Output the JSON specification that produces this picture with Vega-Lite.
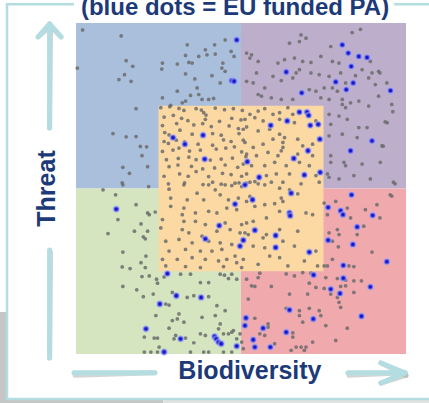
{
"$schema": "https://vega.github.io/schema/vega-lite/v6.json",
"width": 330, "height": 331,
"autosize": {"type": "none"},
"padding": {"left": 76, "top": 23, "right": 23, "bottom": 49},
"background": "white",
"config": {"view": {"stroke": null}},
"encoding": {
  "x": {"field": "x", "type": "quantitative", "scale": {"domain": [0, 100], "nice": false, "zero": false}, "axis": null},
  "y": {"field": "y", "type": "quantitative", "scale": {"domain": [0, 100], "nice": false, "zero": false}, "axis": null}
},
"layer": [
  {"data": {"values": [{"x": -23.1, "x2": 26.4, "y": -13.6, "y2": -15.0}, {"x": -23.1, "x2": -20.9, "y": 12.7, "y2": -15.0}]},
   "mark": {"type": "rect", "fill": "#c6c6c6"},
   "encoding": {"x2": {"field": "x2"}, "y2": {"field": "y2"}}},
  {"data": {"values": [{"x": 26.4, "x2": 110, "y": -13.6, "y2": -15.0}]},
   "mark": {"type": "rect", "fill": "#e2e2e2"},
   "encoding": {"x2": {"field": "x2"}, "y2": {"field": "y2"}}},
  {"data": {"values": [{"x": -20.9, "x2": 110, "y": -13.6, "y2": 105.7}]},
   "mark": {"type": "rect", "fill": "white", "stroke": "#b4dde2", "strokeWidth": 2.5},
   "encoding": {"x2": {"field": "x2"}, "y2": {"field": "y2"}}},
  {"data": {"values": [{"x": -0.6, "x2": 96.4, "y": 101.6, "y2": 108}]},
   "mark": {"type": "rect", "fill": "white"},
   "encoding": {"x2": {"field": "x2"}, "y2": {"field": "y2"}}},
  {"data": {"values": [
    {"zone": "high threat, low biodiversity", "x": 0, "x2": 50, "y": 50, "y2": 100},
    {"zone": "high threat, high biodiversity", "x": 50, "x2": 100, "y": 50, "y2": 100},
    {"zone": "low threat, low biodiversity", "x": 0, "x2": 50, "y": 0, "y2": 50},
    {"zone": "low threat, high biodiversity", "x": 50, "x2": 100, "y": 0, "y2": 50},
    {"zone": "medium", "x": 25, "x2": 75, "y": 25, "y2": 75}]},
   "mark": {"type": "rect"},
   "encoding": {"x2": {"field": "x2"}, "y2": {"field": "y2"},
     "color": {"field": "zone", "type": "nominal", "legend": null,
       "scale": {"domain": ["high threat, low biodiversity", "high threat, high biodiversity", "low threat, low biodiversity", "low threat, high biodiversity", "medium"],
                 "range": ["#a9bfdc", "#bdafcb", "#d4e5bf", "#f0a9ad", "#fcd9a2"]}}}},
  {"data": {"values": [
    {"x": -8.0, "y": 99.7, "x2": -8.0, "y2": 68.3},
    {"x": -8.0, "y": 31.4, "x2": -8.0, "y2": -1.2},
    {"x": -8.0, "y": 99.7, "x2": -11.5, "y2": 95.8},
    {"x": -8.0, "y": 99.7, "x2": -4.5, "y2": 95.8},
    {"x": -0.6, "y": -5.7, "x2": 23.9, "y2": -5.7},
    {"x": 82.4, "y": -5.7, "x2": 99.7, "y2": -5.7},
    {"x": 99.7, "y": -5.7, "x2": 92.4, "y2": -2.7},
    {"x": 99.7, "y": -5.7, "x2": 92.4, "y2": -8.8}]},
   "layer": [
     {"mark": {"type": "rule", "color": "#a0a0a0", "opacity": 0.45, "strokeWidth": 5, "strokeCap": "round", "xOffset": 1, "yOffset": 2.5}},
     {"mark": {"type": "rule", "color": "#b4dde2", "strokeWidth": 5, "strokeCap": "round"}}
   ],
   "encoding": {"x2": {"field": "x2"}, "y2": {"field": "y2"}}},
  {"data": {"values": [{"x": 48.2, "y": 102.4, "t": "(blue dots = EU funded PA)"}]},
   "mark": {"type": "text", "font": "Liberation Sans", "fontWeight": "bold", "fontSize": 24, "color": "#1d3a78", "align": "center", "baseline": "alphabetic"},
   "encoding": {"text": {"field": "t"}}},
  {"data": {"values": [{"x": 52.7, "y": -7.55, "t": "Biodiversity"}]},
   "mark": {"type": "text", "font": "Liberation Sans", "fontWeight": "bold", "fontSize": 25, "color": "#1d3a78", "align": "center", "baseline": "alphabetic"},
   "encoding": {"text": {"field": "t"}}},
  {"data": {"values": [{"x": -6.4, "y": 50.0, "t": "Threat"}]},
   "mark": {"type": "text", "font": "Liberation Sans", "fontWeight": "bold", "fontSize": 25, "color": "#1d3a78", "align": "center", "baseline": "alphabetic", "angle": 270},
   "encoding": {"text": {"field": "t"}}},
  {"data": {"values": [
{"x":2.0,"y":97.9},{"x":13.7,"y":96.1},{"x":0.4,"y":86.4},{"x":33.7,"y":93.4},{"x":39.2,"y":91.9},{"x":42.0,"y":93.4},{"x":45.2,"y":94.9},{"x":39.7,"y":90.4},{"x":42.2,"y":90.6},{"x":47.0,"y":91.4},{"x":47.9,"y":89.9},{"x":37.2,"y":89.9},{"x":33.2,"y":90.2},{"x":26.2,"y":87.9},{"x":30.7,"y":87.6},{"x":34.2,"y":88.1},{"x":35.2,"y":87.9},{"x":44.5,"y":87.9},{"x":15.2,"y":88.6},{"x":17.2,"y":86.9},{"x":14.7,"y":84.4},{"x":13.0,"y":82.9},{"x":16.7,"y":82.4},{"x":26.0,"y":86.1},{"x":33.2,"y":84.6},{"x":36.0,"y":83.1},{"x":41.2,"y":84.1},{"x":44.2,"y":86.4},{"x":45.2,"y":85.4},{"x":43.7,"y":81.9},{"x":30.7,"y":79.4},{"x":36.7,"y":80.4},{"x":37.2,"y":78.4},{"x":34.7,"y":78.1},{"x":38.2,"y":76.9},{"x":40.2,"y":76.9},{"x":41.7,"y":77.2},{"x":33.2,"y":76.4},{"x":32.2,"y":75.9},{"x":28.7,"y":75.1},{"x":26.2,"y":77.4},{"x":18.2,"y":74.1},{"x":11.2,"y":66.6},{"x":15.2,"y":65.6},{"x":18.2,"y":65.7},{"x":19.5,"y":62.7},{"x":21.4,"y":62.6},{"x":20.0,"y":59.9},{"x":14.2,"y":56.4},{"x":21.7,"y":56.6},{"x":16.2,"y":54.6},{"x":14.0,"y":51.7},{"x":22.0,"y":50.6},
{"x":25.7,"y":74.4},{"x":28.4,"y":74.7},{"x":31.2,"y":74.2},{"x":32.7,"y":73.6},{"x":36.4,"y":74.1},{"x":38.0,"y":73.7},{"x":38.7,"y":72.9},{"x":39.4,"y":72.2},{"x":42.2,"y":74.3},{"x":45.0,"y":73.8},{"x":47.7,"y":74.1},{"x":50.4,"y":73.6},{"x":26.7,"y":71.6},{"x":29.5,"y":72.1},{"x":32.0,"y":71.2},{"x":33.9,"y":70.5},{"x":39.2,"y":70.9},{"x":43.5,"y":70.3},{"x":47.2,"y":71.2},{"x":50.0,"y":70.7},{"x":26.2,"y":69.0},{"x":30.5,"y":69.6},{"x":35.7,"y":69.2},{"x":38.4,"y":69.6},{"x":41.0,"y":68.7},{"x":46.4,"y":68.9},{"x":49.2,"y":68.1},{"x":51.7,"y":68.6},{"x":26.9,"y":66.9},{"x":28.2,"y":66.2},{"x":31.5,"y":67.6},{"x":35.2,"y":66.4},{"x":41.4,"y":66.6},{"x":44.0,"y":66.1},{"x":49.4,"y":66.6},{"x":26.7,"y":64.2},{"x":28.0,"y":63.6},{"x":30.4,"y":64.6},{"x":32.9,"y":64.1},{"x":37.0,"y":63.4},{"x":41.4,"y":63.1},{"x":44.7,"y":64.7},{"x":47.0,"y":64.2},{"x":50.7,"y":64.6},{"x":26.2,"y":61.2},{"x":29.4,"y":61.6},{"x":31.2,"y":62.2},{"x":34.4,"y":61.3},{"x":37.7,"y":61.6},{"x":42.5,"y":61.9},{"x":45.4,"y":62.2},{"x":48.0,"y":62.6},{"x":50.2,"y":61.1},{"x":27.4,"y":58.7},{"x":31.0,"y":59.1},{"x":34.2,"y":59.5},{"x":36.4,"y":58.7},{"x":40.7,"y":58.6},{"x":44.0,"y":58.9},{"x":47.4,"y":59.2},{"x":51.5,"y":59.6},{"x":28.2,"y":56.6},{"x":30.9,"y":57.1},{"x":35.0,"y":56.7},{"x":38.4,"y":55.9},{"x":42.0,"y":56.2},{"x":45.2,"y":57.1},{"x":49.0,"y":56.4},{"x":26.7,"y":53.7},{"x":31.4,"y":54.4},{"x":34.0,"y":53.7},{"x":36.4,"y":55.1},{"x":40.2,"y":53.6},{"x":44.4,"y":54.6},{"x":47.0,"y":54.2},{"x":50.2,"y":53.7},{"x":28.0,"y":51.4},{"x":32.9,"y":51.7},{"x":38.5,"y":51.2},{"x":41.4,"y":51.9},{"x":44.0,"y":51.3},{"x":47.2,"y":50.9},{"x":49.4,"y":51.7},
{"x":68.2,"y":96.4},{"x":69.7,"y":95.4},{"x":67.7,"y":94.4},{"x":64.7,"y":93.9},{"x":83.7,"y":97.1},{"x":86.2,"y":98.1},{"x":77.2,"y":92.9},{"x":51.7,"y":90.9},{"x":53.2,"y":90.4},{"x":52.7,"y":89.4},{"x":55.2,"y":88.4},{"x":61.2,"y":87.9},{"x":63.2,"y":88.9},{"x":66.2,"y":89.4},{"x":68.7,"y":88.4},{"x":71.2,"y":88.1},{"x":74.2,"y":89.9},{"x":77.7,"y":88.4},{"x":79.7,"y":87.9},{"x":89.2,"y":88.4},{"x":86.7,"y":85.9},{"x":89.7,"y":84.9},{"x":91.7,"y":85.4},{"x":88.7,"y":83.4},{"x":84.7,"y":84.1},{"x":80.2,"y":84.9},{"x":76.7,"y":83.9},{"x":73.7,"y":84.4},{"x":71.2,"y":84.9},{"x":67.7,"y":85.9},{"x":66.7,"y":84.9},{"x":65.7,"y":83.4},{"x":62.2,"y":82.6},{"x":59.7,"y":83.9},{"x":54.7,"y":84.9},{"x":51.7,"y":82.4},{"x":53.7,"y":81.9},{"x":57.2,"y":80.4},{"x":70.7,"y":79.9},{"x":72.7,"y":79.4},{"x":75.2,"y":80.4},{"x":77.7,"y":80.4},{"x":79.2,"y":79.4},{"x":81.7,"y":81.9},{"x":90.7,"y":81.4},{"x":94.2,"y":81.9},{"x":55.2,"y":78.4},{"x":56.2,"y":77.9},{"x":59.2,"y":77.4},{"x":62.2,"y":76.9},{"x":65.7,"y":76.9},{"x":74.2,"y":77.4},{"x":76.7,"y":76.9},{"x":80.7,"y":76.9},{"x":83.2,"y":75.9},{"x":81.7,"y":74.4},{"x":85.7,"y":76.4},{"x":88.7,"y":74.9},{"x":80.7,"y":75.4},{"x":95.7,"y":75.4},{"x":91.7,"y":77.9},{"x":76.7,"y":72.4},{"x":79.7,"y":71.9},{"x":82.2,"y":70.9},{"x":85.7,"y":68.4},{"x":88.2,"y":68.4},{"x":93.7,"y":70.1},{"x":77.2,"y":69.4},{"x":76.7,"y":65.9},{"x":80.7,"y":66.4},{"x":85.2,"y":65.4},{"x":92.7,"y":62.9},{"x":77.2,"y":59.9},{"x":77.2,"y":57.9},{"x":81.2,"y":57.9},{"x":81.7,"y":56.9},{"x":86.7,"y":57.4},{"x":92.2,"y":57.9},{"x":84.2,"y":53.9},{"x":89.2,"y":52.9},{"x":96.2,"y":51.9},{"x":79.7,"y":52.9},{"x":76.2,"y":54.4},{"x":76.7,"y":53.4},{"x":92.1,"y":84.9},{"x":96.0,"y":73.2},{"x":94.3,"y":69.9},{"x":93.1,"y":62.8},{"x":96.7,"y":51.4},{"x":95.7,"y":47.7},{"x":92.1,"y":41.1},
{"x":52.7,"y":72.4},{"x":55.2,"y":73.4},{"x":57.2,"y":74.1},{"x":59.7,"y":72.4},{"x":61.7,"y":72.9},{"x":64.2,"y":74.4},{"x":65.7,"y":72.4},{"x":51.2,"y":70.9},{"x":54.2,"y":71.4},{"x":56.7,"y":70.4},{"x":61.7,"y":70.9},{"x":66.2,"y":69.9},{"x":72.7,"y":70.4},{"x":50.7,"y":67.9},{"x":55.2,"y":67.4},{"x":58.7,"y":67.9},{"x":61.7,"y":66.4},{"x":63.2,"y":65.4},{"x":62.7,"y":63.9},{"x":62.7,"y":62.4},{"x":62.2,"y":61.4},{"x":67.2,"y":64.9},{"x":68.7,"y":62.9},{"x":71.7,"y":63.4},{"x":51.2,"y":63.9},{"x":53.7,"y":62.4},{"x":56.7,"y":63.4},{"x":59.7,"y":64.9},{"x":51.7,"y":60.4},{"x":54.7,"y":59.9},{"x":58.2,"y":60.9},{"x":61.2,"y":59.9},{"x":67.2,"y":60.4},{"x":71.7,"y":59.9},{"x":50.7,"y":57.4},{"x":53.2,"y":56.9},{"x":57.2,"y":56.9},{"x":60.2,"y":57.9},{"x":63.7,"y":56.9},{"x":67.7,"y":57.9},{"x":70.7,"y":56.9},{"x":51.7,"y":54.4},{"x":57.7,"y":53.9},{"x":60.7,"y":54.4},{"x":64.7,"y":54.4},{"x":72.7,"y":53.9},{"x":52.7,"y":51.9},{"x":55.2,"y":51.4},{"x":59.2,"y":51.9},{"x":62.7,"y":51.9},{"x":68.2,"y":51.4},{"x":73.7,"y":51.9},
{"x":8.2,"y":49.6},{"x":12.0,"y":48.1},{"x":14.2,"y":51.1},{"x":18.2,"y":45.1},{"x":21.7,"y":42.6},{"x":22.2,"y":42.1},{"x":24.0,"y":42.9},{"x":12.7,"y":40.6},{"x":19.7,"y":39.3},{"x":17.7,"y":37.1},{"x":21.7,"y":37.1},{"x":9.7,"y":36.4},{"x":20.4,"y":35.4},{"x":21.0,"y":34.8},{"x":14.2,"y":30.8},{"x":19.7,"y":27.6},{"x":21.2,"y":29.6},{"x":14.0,"y":26.3},{"x":16.4,"y":25.8},{"x":21.0,"y":26.1},{"x":20.0,"y":23.4},{"x":22.2,"y":23.6},{"x":24.4,"y":22.6},{"x":24.7,"y":21.4},{"x":14.2,"y":20.4},{"x":18.4,"y":19.4},{"x":20.4,"y":17.3},{"x":23.4,"y":18.1},{"x":26.7,"y":23.3},{"x":31.7,"y":24.1},{"x":34.7,"y":24.1},{"x":37.7,"y":21.6},{"x":40.2,"y":21.6},{"x":43.7,"y":24.1},{"x":45.0,"y":23.8},{"x":46.2,"y":22.8},{"x":48.7,"y":22.6},{"x":47.2,"y":24.1},{"x":29.2,"y":18.6},{"x":33.7,"y":17.1},{"x":35.7,"y":17.6},{"x":40.2,"y":17.3},{"x":28.2,"y":14.8},{"x":27.2,"y":15.1},{"x":31.2,"y":12.1},{"x":30.7,"y":10.6},{"x":29.2,"y":10.1},{"x":32.7,"y":9.6},{"x":24.2,"y":11.6},{"x":42.7,"y":14.6},{"x":45.2,"y":13.1},{"x":38.2,"y":11.1},{"x":42.2,"y":11.6},{"x":43.7,"y":9.1},{"x":44.7,"y":6.1},{"x":46.2,"y":6.1},{"x":47.2,"y":6.6},{"x":47.7,"y":7.1},{"x":43.2,"y":7.6},{"x":37.7,"y":6.1},{"x":39.2,"y":5.6},{"x":28.2,"y":7.8},{"x":20.7,"y":5.1},{"x":23.7,"y":4.8},{"x":24.7,"y":4.8},{"x":29.7,"y":4.6},{"x":33.2,"y":4.8},{"x":35.7,"y":3.4},{"x":25.2,"y":2.1},{"x":20.7,"y":0.6},{"x":22.7,"y":0.6},{"x":24.7,"y":0.6},{"x":34.7,"y":0.6},{"x":38.7,"y":0.6},{"x":40.2,"y":0.6},{"x":44.7,"y":0.6},{"x":47.2,"y":0.6},{"x":30.2,"y":5.6},{"x":48.7,"y":4.6},{"x":49.7,"y":6.1},
{"x":28.2,"y":49.8},{"x":32.7,"y":51.1},{"x":36.7,"y":48.6},{"x":40.2,"y":51.1},{"x":42.2,"y":49.6},{"x":45.2,"y":51.1},{"x":48.2,"y":51.6},{"x":50.2,"y":50.6},{"x":28.7,"y":47.1},{"x":33.7,"y":46.6},{"x":38.7,"y":46.6},{"x":43.7,"y":48.1},{"x":46.2,"y":46.6},{"x":49.2,"y":47.1},{"x":28.7,"y":44.6},{"x":32.7,"y":44.1},{"x":32.2,"y":42.1},{"x":36.2,"y":42.6},{"x":40.2,"y":43.1},{"x":42.7,"y":42.6},{"x":45.7,"y":44.1},{"x":48.7,"y":43.6},{"x":26.2,"y":40.6},{"x":32.7,"y":40.1},{"x":36.2,"y":40.1},{"x":39.2,"y":39.1},{"x":45.2,"y":39.6},{"x":50.2,"y":39.1},{"x":25.7,"y":38.1},{"x":32.2,"y":37.6},{"x":34.2,"y":36.6},{"x":38.2,"y":35.6},{"x":42.7,"y":37.1},{"x":46.7,"y":37.6},{"x":49.7,"y":36.6},{"x":27.2,"y":34.1},{"x":31.2,"y":34.6},{"x":35.2,"y":33.6},{"x":40.2,"y":34.1},{"x":43.7,"y":33.6},{"x":47.2,"y":33.1},{"x":28.2,"y":31.1},{"x":33.2,"y":31.6},{"x":37.7,"y":31.1},{"x":41.2,"y":31.1},{"x":44.2,"y":31.6},{"x":48.2,"y":29.6},{"x":26.2,"y":28.6},{"x":30.7,"y":28.6},{"x":35.2,"y":29.1},{"x":39.2,"y":28.6},{"x":43.2,"y":28.1},{"x":45.7,"y":28.6},{"x":48.7,"y":27.6},{"x":27.2,"y":26.6},{"x":33.2,"y":26.4},{"x":37.7,"y":26.1},{"x":44.7,"y":26.4},{"x":50.2,"y":26.1},
{"x":95.2,"y":48.1},{"x":91.2,"y":45.1},{"x":87.7,"y":43.6},{"x":78.7,"y":46.1},{"x":75.2,"y":45.6},{"x":82.2,"y":44.1},{"x":76.2,"y":42.1},{"x":83.2,"y":41.1},{"x":87.2,"y":38.6},{"x":79.2,"y":37.6},{"x":76.7,"y":36.6},{"x":79.7,"y":36.1},{"x":85.2,"y":36.1},{"x":77.7,"y":34.1},{"x":79.5,"y":32.4},{"x":89.7,"y":30.8},{"x":77.7,"y":28.6},{"x":75.2,"y":26.6},{"x":76.2,"y":26.6},{"x":82.7,"y":26.6},{"x":84.2,"y":26.4},{"x":68.7,"y":24.6},{"x":63.7,"y":24.2},{"x":55.7,"y":24.4},{"x":55.2,"y":23.1},{"x":51.7,"y":22.6},{"x":53.2,"y":20.6},{"x":54.2,"y":20.4},{"x":59.2,"y":20.4},{"x":66.2,"y":23.6},{"x":71.2,"y":24.4},{"x":75.7,"y":23.1},{"x":79.2,"y":22.8},{"x":81.7,"y":22.3},{"x":84.2,"y":22.1},{"x":70.7,"y":21.4},{"x":72.7,"y":20.1},{"x":75.2,"y":19.8},{"x":80.2,"y":20.4},{"x":81.7,"y":20.6},{"x":86.5,"y":22.1},{"x":84.2,"y":18.6},{"x":77.2,"y":18.1},{"x":64.7,"y":18.1},{"x":70.2,"y":18.1},{"x":79.2,"y":17.1},{"x":79.7,"y":15.6},{"x":80.2,"y":14.1},{"x":52.2,"y":16.6},{"x":63.7,"y":13.8},{"x":67.7,"y":13.1},{"x":70.7,"y":13.8},{"x":73.7,"y":13.1},{"x":67.7,"y":11.6},{"x":74.2,"y":11.6},{"x":68.7,"y":9.6},{"x":75.7,"y":8.6},{"x":82.2,"y":7.8},{"x":58.2,"y":9.1},{"x":58.2,"y":8.1},{"x":55.7,"y":6.1},{"x":57.2,"y":5.6},{"x":54.2,"y":10.8},{"x":65.7,"y":6.4},{"x":65.7,"y":5.1},{"x":71.7,"y":3.6},{"x":78.7,"y":4.1},{"x":66.7,"y":2.1},{"x":68.2,"y":2.1},{"x":69.7,"y":2.1},{"x":69.2,"y":1.1},{"x":65.2,"y":1.1},{"x":60.2,"y":3.1},{"x":50.7,"y":1.6},{"x":50.2,"y":3.6},
{"x":51.7,"y":51.6},{"x":54.2,"y":52.1},{"x":57.2,"y":51.1},{"x":61.7,"y":50.1},{"x":64.7,"y":49.6},{"x":67.2,"y":48.4},{"x":52.7,"y":47.6},{"x":51.7,"y":46.1},{"x":60.2,"y":45.4},{"x":62.2,"y":47.1},{"x":62.7,"y":46.1},{"x":57.2,"y":45.1},{"x":54.2,"y":44.6},{"x":61.7,"y":43.1},{"x":69.7,"y":42.6},{"x":71.7,"y":42.1},{"x":51.7,"y":39.6},{"x":53.7,"y":40.1},{"x":57.7,"y":41.1},{"x":51.2,"y":36.6},{"x":52.2,"y":36.1},{"x":56.7,"y":35.1},{"x":57.7,"y":36.1},{"x":61.7,"y":37.6},{"x":67.2,"y":37.1},{"x":53.7,"y":32.6},{"x":57.2,"y":32.1},{"x":62.7,"y":34.1},{"x":66.2,"y":32.6},{"x":69.2,"y":28.1},{"x":72.7,"y":31.1},{"x":61.7,"y":29.1},{"x":58.7,"y":29.6},{"x":50.7,"y":28.6},{"x":55.2,"y":27.1},{"x":64.2,"y":26.6},{"x":73.2,"y":26.6}
  ]},
   "mark": {"type": "circle", "size": 14, "color": "#6c6c6c", "opacity": 0.85}},
  {"data": {"values": [
{"x":48.7,"y":94.9},{"x":47.2,"y":82.6},{"x":47.9,"y":82.4},
{"x":29.4,"y":65.4},{"x":33.0,"y":63.4},{"x":38.5,"y":66.1},{"x":39.0,"y":58.9},{"x":51.9,"y":58.1},{"x":51.2,"y":51.1},
{"x":80.7,"y":93.4},{"x":82.5,"y":90.9},{"x":85.7,"y":89.9},{"x":88.2,"y":89.6},{"x":83.4,"y":86.9},{"x":63.7,"y":85.2},{"x":78.7,"y":82.2},{"x":84.0,"y":81.9},{"x":81.9,"y":79.9},{"x":68.4,"y":78.9},{"x":95.3,"y":79.6},{"x":89.7,"y":64.4},{"x":83.2,"y":61.4},
{"x":67.7,"y":73.1},{"x":70.0,"y":73.1},{"x":70.5,"y":72.1},{"x":59.0,"y":69.1},{"x":64.0,"y":70.4},{"x":71.0,"y":69.1},{"x":73.4,"y":69.4},{"x":73.9,"y":64.9},{"x":70.3,"y":61.4},{"x":66.0,"y":59.1},{"x":55.5,"y":53.4},{"x":69.2,"y":54.1},{"x":74.0,"y":54.9},
{"x":12.2,"y":43.8},{"x":27.7,"y":24.3},{"x":30.4,"y":17.6},{"x":37.9,"y":17.1},{"x":25.4,"y":15.1},{"x":21.2,"y":7.6},{"x":31.7,"y":4.6},{"x":42.0,"y":5.3},{"x":42.5,"y":4.6},{"x":43.2,"y":3.6},{"x":44.0,"y":3.1},{"x":48.7,"y":2.4},{"x":26.7,"y":0.6},
{"x":48.2,"y":45.3},{"x":43.4,"y":38.8},{"x":39.2,"y":34.8},{"x":50.7,"y":34.4},{"x":49.7,"y":32.6},
{"x":83.5,"y":48.1},{"x":76.4,"y":44.3},{"x":80.2,"y":43.3},{"x":80.9,"y":42.1},{"x":89.9,"y":41.9},{"x":85.2,"y":38.4},{"x":76.4,"y":34.4},{"x":83.9,"y":33.1},{"x":94.2,"y":27.9},{"x":81.0,"y":26.8},{"x":72.0,"y":23.9},{"x":81.0,"y":22.9},{"x":77.2,"y":19.6},{"x":80.0,"y":18.3},{"x":89.2,"y":20.3},{"x":64.7,"y":13.3},{"x":71.9,"y":10.6},{"x":86.5,"y":11.4},{"x":51.5,"y":10.9},{"x":51.2,"y":8.6},{"x":56.7,"y":7.8},{"x":63.7,"y":6.6},{"x":53.7,"y":4.3},{"x":54.2,"y":2.1},{"x":58.9,"y":2.1},
{"x":53.5,"y":46.6},{"x":65.2,"y":48.6},{"x":64.7,"y":42.6},{"x":64.9,"y":41.8},{"x":54.2,"y":37.4},{"x":60.5,"y":35.8},{"x":60.5,"y":32.2},{"x":70.7,"y":30.8}
  ]},
   "mark": {"type": "circle", "size": 28, "fill": "#1616c8", "fillOpacity": 1, "stroke": "#9ea6ff", "strokeWidth": 2, "strokeOpacity": 0.55}}
]
}
